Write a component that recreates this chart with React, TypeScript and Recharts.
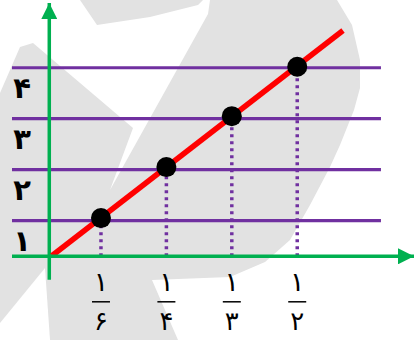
import { ComposedChart, Line, Scatter, XAxis, YAxis, ReferenceLine } from "recharts"

// x positions are ordinal (the fractions are drawn evenly spaced)
const xTicks = [1, 2, 3, 4]
const xNumerators = ["۱", "۱", "۱", "۱"]
const xDenominators = ["۶", "۴", "۳", "۲"]

const yTicks = [1, 2, 3, 4]
const yLabels = ["۱", "۲", "۳", "۴"]

// black points
const pointX = [1, 2, 3, 4]
const pointY = [1.05, 2.05, 3.05, 4.02]

// red line, from the origin out past the last point
const lineX = [0.25, 4.7]
const lineY = [0.31, 4.73]

const points = pointX.map((x, i) => ({ x, y: pointY[i] }))
const lineData = lineX.map((x, i) => ({ x, y: lineY[i] }))

const GREEN = "#00b050"
const PURPLE = "#7030a0"
const RED = "#ff0000"
const FONT = "'DejaVu Sans', sans-serif"

const X_DOMAIN: [number, number] = [-0.36, 5.785]
const Y_DOMAIN: [number, number] = [0.3, 5.27]
const Y_AXIS_X = 0.21
const Y_AXIS_BOTTOM = -0.16
const GRID_END = 5.28

// dotted drop lines from each point down to the x axis
const dropLines = points.map((p) => [
	{ x: p.x, y: Y_DOMAIN[0] },
	{ x: p.x, y: p.y },
])

function XTick(props: any) {
	const { x, y, payload } = props
	const i = xTicks.indexOf(payload.value)
	return (
		<g>
			<text x={x} y={y + 25} textAnchor="middle" dominantBaseline="central" fontSize={27} fontFamily={FONT} fill="#000">
				{xNumerators[i]}
			</text>
			<line x1={x - 9} x2={x + 9} y1={y + 45.5} y2={y + 45.5} stroke="#000" strokeWidth={1.5} />
			<text x={x} y={y + 65} textAnchor="middle" dominantBaseline="central" fontSize={26} fontFamily={FONT} fill="#000">
				{xDenominators[i]}
			</text>
		</g>
	)
}

function YTick(props: any) {
	const { x, y, payload } = props
	const i = yTicks.indexOf(payload.value)
	return (
		<text x={x + 10} y={y + 20} textAnchor="middle" dominantBaseline="central" fontSize={29} fontWeight="bold" fontFamily={FONT} fill="#000">
			{yLabels[i]}
		</text>
	)
}

// faint watermark behind the chart
function Watermark() {
	return (
		<svg width={414} height={340} style={{ position: "absolute", left: 0, top: 0 }}>
			<defs>
				<marker id="greenArrow" viewBox="0 0 16 16" refX={16} refY={8} markerWidth={16} markerHeight={16} markerUnits="userSpaceOnUse" orient="auto">
					<path d="M0,0 L16,8 L0,16 z" fill={GREEN} />
				</marker>
			</defs>
			<rect x={0} y={0} width={414} height={340} fill="#e2e2e2" />
			<polygon
				fill="#fff"
				points="0,0 80,0 97,25 150,17 198,5 203,0 210,0 208,14 110,190 133,128 33,43 20,47 0,93"
			/>
			<polygon
				fill="#fff"
				points="337,0 414,0 414,340 178,340 152,280 230,277 265,262 290,240 310,205 330,167 340,145 354,110 360,88 360,60 352,25"
			/>
			<polygon fill="#fff" points="0,323 45,268 50,340 0,340" />
		</svg>
	)
}

export default function App() {
	return (
		<div style={{ position: "absolute", left: 0, top: 0, width: 414, height: 340 }}>
			<Watermark />
			<div style={{ position: "absolute", left: 0, top: 0 }}>
				<ComposedChart width={414} height={340} margin={{ top: 3, right: 0, left: 0, bottom: 3.7 }}>
					{yTicks.map((v) => (
						<ReferenceLine
							key={"h" + v}
							segment={[
								{ x: X_DOMAIN[0], y: v },
								{ x: GRID_END, y: v },
							]}
							stroke={PURPLE}
							strokeWidth={3.2}
							ifOverflow="visible"
						/>
					))}
					<ReferenceLine
						segment={[
							{ x: Y_AXIS_X, y: Y_AXIS_BOTTOM },
							{ x: Y_AXIS_X, y: Y_DOMAIN[1] },
						]}
						stroke={GREEN}
						strokeWidth={3.5}
						markerEnd="url(#greenArrow)"
						ifOverflow="visible"
					/>
					<XAxis
						type="number"
						dataKey="x"
						domain={X_DOMAIN}
						allowDataOverflow
						ticks={xTicks}
						interval={0}
						height={80}
						tickSize={0}
						tickMargin={0}
						tickLine={false}
						axisLine={{ stroke: GREEN, strokeWidth: 3.5, markerEnd: "url(#greenArrow)" }}
						tick={(props: any) => <XTick {...props} />}
					/>
					<YAxis
						type="number"
						dataKey="y"
						domain={Y_DOMAIN}
						allowDataOverflow
						ticks={yTicks}
						interval={0}
						width={12}
						tickSize={0}
						tickMargin={0}
						tickLine={false}
						axisLine={false}
						tick={(props: any) => <YTick {...props} />}
					/>
					{dropLines.map((d, i) => (
						<Line
							key={"drop" + i}
							data={d}
							dataKey="y"
							type="linear"
							stroke={PURPLE}
							strokeWidth={3.5}
							strokeDasharray="3 4"
							dot={false}
							activeDot={false}
							isAnimationActive={false}
						/>
					))}
					<Line
						data={lineData}
						dataKey="y"
						type="linear"
						stroke={RED}
						strokeWidth={5.5}
						dot={false}
						activeDot={false}
						isAnimationActive={false}
					/>
					<Scatter
						data={points}
						dataKey="y"
						fill="#000"
						isAnimationActive={false}
						shape={(props: any) => <circle cx={props.cx} cy={props.cy} r={10} fill="#000" />}
					/>
				</ComposedChart>
			</div>
		</div>
	)
}
